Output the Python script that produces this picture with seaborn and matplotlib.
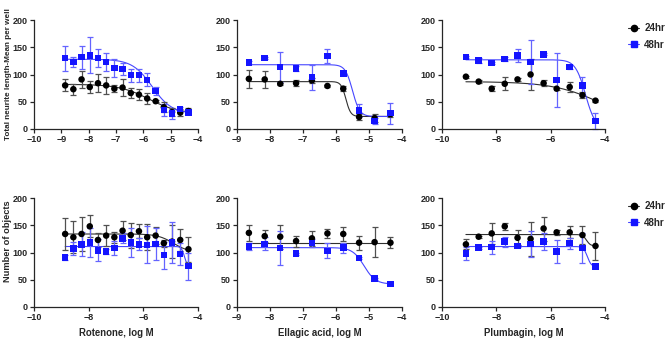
import numpy as np
import pandas as pd
import matplotlib.pyplot as plt
from matplotlib.lines import Line2D
import seaborn as sns

# concentrations (log M)
conc_rot = [-8.86, -8.56, -8.26, -7.96, -7.66, -7.36, -7.06, -6.76,
            -6.46, -6.16, -5.86, -5.55, -5.25, -4.95, -4.65, -4.35]
conc_ell = [-8.64, -8.16, -7.69, -7.21, -6.73, -6.26, -5.78, -5.30, -4.83, -4.35]
conc_plu = [-9.12, -8.65, -8.17, -7.69, -7.22, -6.74, -6.26, -5.78, -5.30, -4.83, -4.35]

# neurite length, rotenone
rot_len_24 = [80, 73, 91, 77, 84, 80, 74, 76, 66, 63, 56, 51, 40, 31, 30, 33]
rot_len_24_err = [11, 10, 16, 11, 17, 15, 7, 15, 9, 10, 10, 2, 9, 8, 7, 6]
rot_len_48 = [130, 123, 132, 135, 130, 123, 112, 110, 99, 99, 90, 70, 35, 28, 37, 30]
rot_len_48_err = [23, 9, 21, 33, 17, 16, 17, 11, 12, 12, 12, 7, 11, 9, 4, 3]

# neurite length, ellagic acid
ell_len_24 = [92, 91, 83, 84, 89, 79, 74, 22, 20, 27]
ell_len_24_err = [16, 16, 2, 6, 5, 2, 5, 5, 8, 5]
ell_len_48 = [122, 130, 114, 111, 95, 134, 102, 34, 15, 29]
ell_len_48_err = [2, 2, 27, 4, 23, 13, 2, 12, 6, 19]

# neurite length, plumbagin
plu_len_24 = [96, 87, 74, 83, 91, 100, 84, 74, 77, 62, 52]
plu_len_24_err = [2, 2, 5, 12, 3, 29, 6, 2, 9, 6, 2]
plu_len_48 = [132, 126, 121, 128, 135, 123, 137, 90, 114, 80, 15]
plu_len_48_err = [2, 4, 2, 4, 12, 40, 2, 49, 4, 16, 15]

# number of objects, rotenone
rot_obj_24 = [134, 128, 134, 148, 123, 131, 128, 140, 132, 139, 128, 131, 117, 120, 123, 106]
rot_obj_24_err = [29, 29, 31, 20, 12, 19, 10, 17, 23, 13, 24, 15, 6, 30, 20, 23]
rot_obj_48 = [91, 107, 115, 118, 104, 102, 108, 126, 118, 115, 114, 116, 95, 118, 97, 75]
rot_obj_48_err = [4, 12, 22, 27, 20, 5, 13, 9, 27, 11, 34, 29, 25, 38, 20, 25]

# number of objects, ellagic acid
ell_obj_24 = [136, 130, 129, 121, 126, 135, 134, 118, 119, 118]
ell_obj_24_err = [14, 11, 22, 10, 14, 8, 13, 13, 28, 10]
ell_obj_48 = [111, 116, 108, 98, 117, 103, 109, 90, 52, 42]
ell_obj_48_err = [7, 12, 31, 2, 7, 14, 9, 2, 2, 2]

# number of objects, plumbagin
plu_obj_24 = [115, 129, 135, 148, 127, 125, 144, 137, 137, 132, 112]
plu_obj_24_err = [9, 2, 20, 6, 14, 31, 22, 5, 11, 17, 25]
plu_obj_48 = [98, 109, 110, 120, 112, 116, 120, 102, 117, 108, 74]
plu_obj_48_err = [12, 2, 12, 9, 2, 24, 15, 21, 10, 27, 2]

# fitted dose-response parameters: top, bottom, logIC50, hill
fits = {
    "rot_len": [(82, 28, -5.8, 0.8), (128, 28, -5.68, 1.2)],
    "ell_len": [(87, 23, -5.7, 6.0), (118, 23, -5.5, 4.0)],
    "plu_len": [(87, 0, -3.98, 0.47), (127, 0, -4.72, 2.35)],
    "rot_obj": [(134, 100, -4.9, 1.5), (111, 75, -4.5, 8.0)],
    "ell_obj": [(118, 118, -5.0, 1.0), (109, 42, -5.15, 2.5)],
    "plu_obj": [(133, 112, -4.68, 6.0), (111, 74, -4.65, 6.0)],
}

series = ["24hr", "48hr"]
colors = {"24hr": "#000000", "48hr": "#1414ff"}
err_colors = {"24hr": "#505050", "48hr": "#6464ff"}
curve_colors = {"24hr": "#303030", "48hr": "#4646ff"}
markers = {"24hr": "o", "48hr": "s"}

panels = [
    ("rot_len", conc_rot, rot_len_24, rot_len_24_err, rot_len_48, rot_len_48_err, (-10, -4, 1)),
    ("ell_len", conc_ell, ell_len_24, ell_len_24_err, ell_len_48, ell_len_48_err, (-9, -4, 1)),
    ("plu_len", conc_plu, plu_len_24, plu_len_24_err, plu_len_48, plu_len_48_err, (-10, -4, 2)),
    ("rot_obj", conc_rot, rot_obj_24, rot_obj_24_err, rot_obj_48, rot_obj_48_err, (-10, -4, 2)),
    ("ell_obj", conc_ell, ell_obj_24, ell_obj_24_err, ell_obj_48, ell_obj_48_err, (-9, -4, 1)),
    ("plu_obj", conc_plu, plu_obj_24, plu_obj_24_err, plu_obj_48, plu_obj_48_err, (-10, -4, 2)),
]
xlabels = ["Rotenone, log M", "Ellagic acid, log M", "Plumbagin, log M"]
ylabels = ["Total neurite length-Mean per well", "Number of objects"]

sns.set_style("ticks")
plt.rcParams["font.family"] = ["Liberation Sans", "DejaVu Sans"]
plt.rcParams["font.weight"] = "bold"

W, H = 669, 340
fig = plt.figure(figsize=(W / 100, H / 100), dpi=100)

lefts = [34, 237, 442]
widths = [164, 165, 163]
tops = [20, 198]
ylabel_pos = [0.5, 0.6]
ylabel_size = [5.9, 6.7]

def hill(x, top, bottom, c, h):
    return bottom + (top - bottom) / (1 + 10 ** (h * (x - c)))

for i, (key, conc, y24, e24, y48, e48, xr) in enumerate(panels):
    row, col = divmod(i, 3)
    ax = fig.add_axes([lefts[col] / W, 1 - (tops[row] + 109) / H, widths[col] / W, 109 / H])
    df = pd.DataFrame({
        "conc": conc * 2,
        "value": y24 + y48,
        "err": e24 + e48,
        "time": ["24hr"] * len(conc) + ["48hr"] * len(conc),
    })
    for s, p in zip(series, fits[key]):
        xs = np.linspace(min(conc), max(conc), 300)
        sns.lineplot(x=xs, y=hill(xs, *p), color=curve_colors[s], lw=0.8, ax=ax)
    for s in series:
        d = df[df.time == s]
        ax.errorbar(d.conc, d.value, yerr=d.err, fmt="none", ecolor=err_colors[s],
                    elinewidth=0.9, capsize=2.3, capthick=0.9, clip_on=False)
    sns.scatterplot(data=df, x="conc", y="value", hue="time", style="time",
                    palette=colors, markers=markers, s=22, edgecolor="none",
                    legend=False, ax=ax, clip_on=False, zorder=5)
    ax.set_xlim(xr[0], xr[1])
    ax.set_xticks(np.arange(xr[0], xr[1] + 0.1, xr[2]))
    ax.set_ylim(0, 200)
    ax.set_yticks([0, 50, 100, 150, 200])
    ax.tick_params(labelsize=6.5, length=3, width=0.9, pad=1.5)
    for lab in ax.get_xticklabels() + ax.get_yticklabels():
        lab.set_fontweight("bold")
    for sp in ["left", "bottom"]:
        ax.spines[sp].set_linewidth(0.9)
    sns.despine(ax=ax)
    ax.set_xlabel(xlabels[col] if row == 1 else "", fontsize=6.9, fontweight="bold", labelpad=4)
    ax.set_ylabel("")
    if col == 0:
        ax.set_ylabel(ylabels[row], fontsize=ylabel_size[row], fontweight="bold")
        ax.yaxis.set_label_coords(-0.135, ylabel_pos[row])
    if col == 2:
        handles = [Line2D([], [], color=curve_colors[s], lw=0.8, marker=markers[s],
                          markerfacecolor=colors[s], markeredgecolor=colors[s], markersize=4.5)
                   for s in series]
        ax.legend(handles, series, loc="upper left", bbox_to_anchor=(1.14, 0.97),
                  frameon=False, fontsize=7, handlelength=1.2, handletextpad=0.5,
                  labelspacing=0.65, borderpad=0, borderaxespad=0)

fig.savefig("out.png", dpi=100)
